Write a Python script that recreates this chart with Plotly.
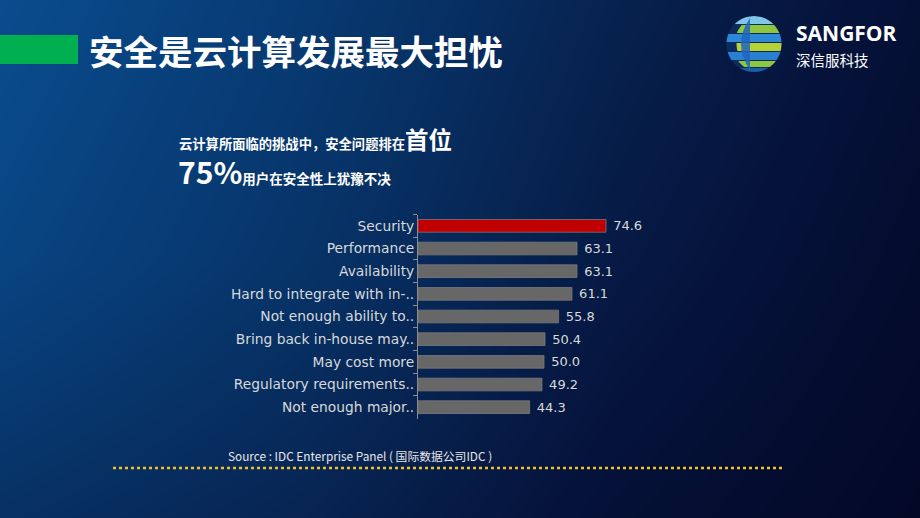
import plotly.graph_objects as go
import math

# ---------------- data ----------------
categories = ["Security", "Performance", "Availability", "Hard to integrate with in-..",
              "Not enough ability to..", "Bring back in-house may..", "May cost more",
              "Regulatory requirements..", "Not enough major.."]
values = [74.6, 63.1, 63.1, 61.1, 55.8, 50.4, 50.0, 49.2, 44.3]
highlight = "Security"

title_text = "安全是云计算发展最大担忧"
sub1 = "云计算所面临的挑战中，安全问题排在"
sub1_big = "首位"
sub2_big = "75%"
sub2 = "用户在安全性上犹豫不决"
source_text = "Source : IDC Enterprise Panel ( 国际数据公司IDC )"
brand = "SANGFOR"
brand_cn = "深信服科技"

W, H = 920, 518
CJK = "Noto Sans CJK SC"

fig = go.Figure()

# ---- background gradient (decorative) ----
bg_x = [0, 307, 613, 920]
bg_y = [0, 259, 518]
bg_z = [[1.00, 0.72, 0.40, 0.16],
        [0.88, 0.62, 0.30, 0.08],
        [0.58, 0.42, 0.16, 0.00]]
fig.add_trace(go.Heatmap(
    x=bg_x, y=bg_y, z=bg_z, zsmooth="best", showscale=False, hoverinfo="skip",
    colorscale=[[0.0, "#030826"], [0.2, "#05123a"], [0.4, "#07224f"],
                [0.6, "#073266"], [0.8, "#083f7a"], [1.0, "#0a4c8e"]],
    zmin=0, zmax=1, xaxis="x", yaxis="y"))

# ---- bars ----
colors = ["#c00000" if c == highlight else "#676767" for c in categories]
fig.add_trace(go.Bar(
    x=values, y=categories, orientation="h", xaxis="x2", yaxis="y2",
    marker=dict(color=colors, line=dict(color="#7a7a7a", width=0.8)),
    width=0.56, text=["\u00a0" + f"{v:.1f}" for v in values], textposition="outside",
    constraintext="none",
    textfont=dict(color="#d9d9d9", size=13, family="DejaVu Sans"),
    cliponaxis=False, hoverinfo="skip"))

fig.update_layout(
    width=W, height=H, margin=dict(l=0, r=0, t=0, b=0),
    paper_bgcolor="#062e5e", plot_bgcolor="rgba(0,0,0,0)", showlegend=False,
    xaxis=dict(domain=[0, 1], range=[0, W], visible=False, fixedrange=True),
    yaxis=dict(domain=[0, 1], range=[H, 0], visible=False, fixedrange=True),
    xaxis2=dict(domain=[418 / W, 670 / W], range=[0, 100], visible=False, anchor="y2"),
    yaxis2=dict(domain=[1 - 418.5 / H, 1 - 214.5 / H], anchor="x2", type="category",
                autorange="reversed", showline=True, linecolor="#8c8c8c", linewidth=1,
                ticks="outside", tickson="boundaries", ticklen=4, tickcolor="#8c8c8c",
                showgrid=False, zeroline=False,
                tickfont=dict(color="#d9d9d9", size=13.8, family="DejaVu Sans")),
)

shapes = []
# green title block
shapes.append(dict(type="rect", xref="x", yref="y", x0=0, x1=78, y0=35, y1=64,
                   fillcolor="#00b050", line=dict(width=0), layer="above"))
# dotted separator
shapes.append(dict(type="line", xref="x", yref="y", x0=113, x1=783, y0=468, y1=468,
                   line=dict(color="#f2c12e", width=2.5, dash="dot"), layer="above"))

# logo globe
cx, cy, r = 754, 44, 28
shapes.append(dict(type="circle", xref="x", yref="y", x0=cx - r, x1=cx + r, y0=cy - r, y1=cy + r,
                   fillcolor="#0d2a5c", line=dict(width=0), layer="above"))
bands = [(-28, -20, "#7fc6e8", 0.0), (-19, -11, "#8dc63f", 4), (-10, -2, "#2e88d8", -3),
         (-1, 7, "#b5d334", 5), (8, 16, "#2a7fd0", -2), (17, 23, "#8dc63f", 3),
         (24, 28, "#1a5fa8", 0)]

def band_path(y0, y1, shift):
    pts_r, pts_l = [], []
    n = 8
    for i in range(n + 1):
        yy = y0 + (y1 - y0) * i / n
        dx = math.sqrt(max(r * r - yy * yy, 0)) * 0.98
        pts_r.append((cx + dx, cy + yy))
        pts_l.append((cx - dx + abs(shift) * 2 if shift > 0 else cx - dx, cy + yy))
    pts = pts_r + pts_l[::-1]
    return "M " + " L ".join(f"{px:.2f},{py:.2f}" for px, py in pts) + " Z"

for y0, y1, col, sh in bands:
    shapes.append(dict(type="path", xref="x", yref="y", path=band_path(y0, y1, sh),
                       fillcolor=col, line=dict(width=0), layer="above"))
shapes.append(dict(type="path", xref="x", yref="y", layer="above", line=dict(width=0),
                   fillcolor="rgba(30,100,190,0.85)",
                   path=f"M {cx-4},{cy-26} Q {cx-22},{cy} {cx-4},{cy+26} "
                        f"A {r} {r} 0 0 1 {cx-4},{cy-26} Z"))
fig.update_layout(shapes=shapes)

ann = []
ann.append(dict(text=f"<b>{title_text}</b>", x=87, y=50, xref="x", yref="y",
                xanchor="left", yanchor="middle", showarrow=False,
                font=dict(family=CJK, size=34.5, color="white")))
ann.append(dict(text=f"<b>{brand}</b>", x=795, y=48, xref="x", yref="y",
                xanchor="left", yanchor="bottom", showarrow=False, borderpad=0,
                font=dict(family="Open Sans", size=21, color="white")))
ann.append(dict(text=brand_cn, x=795, y=48, xref="x", yref="y",
                xanchor="left", yanchor="top", showarrow=False, borderpad=0,
                font=dict(family=CJK, size=14.5, color="white")))
ann.append(dict(text=f"<b>{sub1}<span style='font-size:23.5px'>{sub1_big}</span></b>",
                x=177, y=158, xref="x", yref="y", xanchor="left", yanchor="bottom",
                showarrow=False, font=dict(family=CJK, size=13.3, color="white")))
ann.append(dict(text=f"<b><span style='font-size:30px'>{sub2_big}</span>{sub2}</b>",
                x=176, y=195, xref="x", yref="y", xanchor="left", yanchor="bottom",
                showarrow=False, font=dict(family=CJK, size=13.5, color="white")))
ann.append(dict(text=source_text, x=226, y=455, xref="x", yref="y",
                xanchor="left", yanchor="middle", showarrow=False,
                font=dict(family="Liberation Sans Narrow, " + CJK, size=11.8, color="#e8e8e8")))
fig.update_layout(annotations=ann)

fig.write_html("out.html", config={"displayModeBar": False},
               post_script="document.body.style.margin='0';document.body.style.overflow='hidden';")
